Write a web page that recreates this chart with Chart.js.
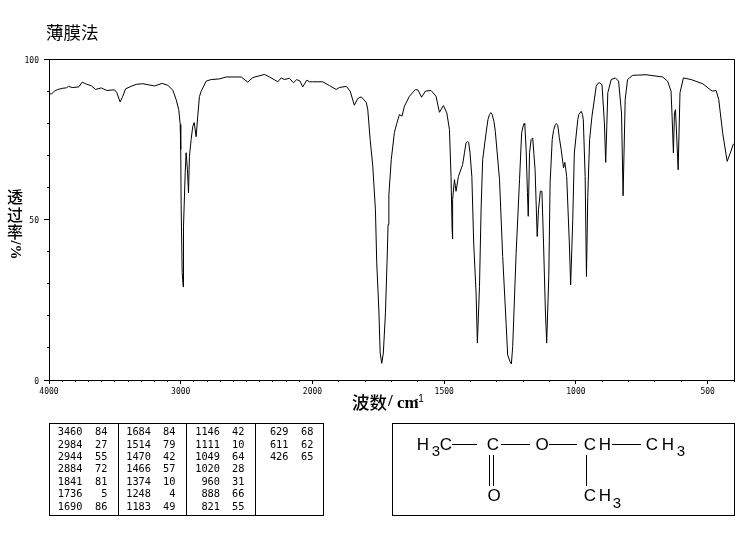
<!DOCTYPE html>
<html>
<head>
<meta charset="utf-8">
<title>薄膜法</title>
<script src="https://cdn.jsdelivr.net/npm/chart.js@4"></script>
<style>
body{margin:0;background:#fff;}
canvas{display:block;}
</style>
</head>
<body>
<canvas id="myChart" width="748" height="539"></canvas>
<script>
// spectrum
const waveNumbers=[4000,3983,3958,3933,3895,3869,3852,3824,3774,3748,3713,3680,3647,3604,3561,3503,3485,3460,3440,3419,3376,3338,3288,3250,3199,3141,3098,3060,3035,3015,3004,3000,2997,2989,2981,2979,2966,2959,2949,2941,2934,2921,2909,2898,2883,2871,2858,2845,2807,2769,2706,2655,2541,2491,2453,2364,2326,2263,2238,2213,2175,2144,2119,2094,2074,2043,2023,2000,1961,1935,1910,1898,1872,1857,1841,1828,1815,1796,1790,1781,1771,1761,1756,1748,1743,1737,1731,1723,1717,1713,1710,1701,1689,1680,1670,1660,1651,1632,1609,1599,1586,1571,1550,1531,1518,1503,1490,1480,1474,1470,1469,1467,1461,1455,1446,1430,1423,1417,1412,1407,1402,1395,1388,1379,1374,1366,1360,1354,1341,1334,1328,1323,1318,1311,1306,1290,1278,1265,1259,1250,1245,1240,1227,1214,1206,1201,1197,1194,1189,1184,1181,1176,1170,1164,1155,1147,1142,1135,1129,1123,1116,1111,1103,1098,1090,1085,1078,1074,1069,1063,1056,1047,1042,1035,1025,1020,1012,1006,993,989,980,975,972,965,960,955,948,939,923,917,911,901,892,887,879,866,850,838,827,821,813,804,785,734,671,652,639,635,630,626,622,612,605,592,563,519,483,468,458,443,426,414,402];
const transmittance=[89.2,89.1,90.0,90.5,90.9,91.0,91.5,91.1,91.3,92.8,92.1,91.7,90.5,91.0,90.2,90.4,89.5,86.6,88.4,90.7,91.5,92.1,92.3,92.0,91.6,92.4,91.8,90.3,87.4,84.2,79.6,71.8,54.6,33.4,29.0,47.7,64.6,70.8,65.5,58.3,69.6,74.9,78.9,80.2,75.8,82.1,88.3,89.9,93.1,93.6,93.8,94.4,94.4,92.8,94.2,95.2,94.4,92.9,94.1,93.6,94.0,92.6,93.6,93.1,91.3,93.4,92.9,92.9,92.9,91.7,90.5,91.1,91.5,90.0,85.6,87.7,88.2,86.5,84.2,74.9,66.6,53.0,36.5,21.8,8.4,5.2,8.4,20.9,36.5,48.4,57.7,68.6,77.1,79.9,82.7,82.2,85.3,88.4,90.5,90.3,88.1,90.0,90.2,88.4,83.4,85.5,83.2,78.0,63.4,46.8,43.9,56.2,62.4,58.8,63.4,67.1,70.8,73.9,74.3,74.0,70.8,63.4,42.7,27.1,11.5,29.1,53.0,68.6,77.0,81.1,82.7,83.3,82.7,80.5,77.5,62.4,38.5,17.7,7.8,5.7,5.0,10.4,39.5,62.4,77.0,78.9,79.9,79.6,71.8,58.3,51.0,70.8,74.9,75.4,65.5,44.7,53.0,58.8,58.8,42.7,21.8,11.5,32.2,61.4,74.9,77.7,79.6,79.9,79.3,75.5,71.8,66.1,67.8,63.4,42.7,29.6,49.9,70.7,81.1,82.7,83.7,82.7,81.1,63.4,32.2,57.2,74.9,82.2,91.5,92.4,92.6,92.0,80.1,67.8,89.5,93.6,94.1,93.1,83.2,57.4,87.4,93.6,94.9,95.1,94.4,93.1,90.0,82.2,70.7,83.2,84.2,65.5,89.5,94.1,93.6,92.3,90.0,90.2,87.4,77.0,68.1,70.7,73.6];

const xLabelTicks=[4000,3000,2000,1500,1000,500];
const yLabelTicks=[0,50,100];

// peak table, one list per column of the printed table
const peakWave1=[3460,2984,2944,2884,1841,1736,1690];
const peakTrans1=[84,27,55,72,81,5,86];
const peakWave2=[1684,1514,1470,1466,1374,1248,1183];
const peakTrans2=[84,79,42,57,10,4,49];
const peakWave3=[1146,1111,1049,1020,960,888,821];
const peakTrans3=[42,10,64,28,31,66,55];
const peakWave4=[629,611,426];
const peakTrans4=[68,62,65];

// the axis is twice as wide per cm-1 below 2000
const xPos=(wn)=>wn>=2000?(4000-wn)/2:1000+(2000-wn);

const xMinorTicks=[];
for(let wn=4000;wn>=400;wn-=100){
    xMinorTicks.push(wn);
}

const tickFont={family:"'DejaVu Sans Mono'",size:8};

const label=(ctx,text,x,y,font,align)=>{
    ctx.font=font;
    ctx.textAlign=align||"center";
    ctx.textBaseline="middle";
    ctx.fillText(text,x,y);
};

const line=(ctx,x1,y1,x2,y2)=>{
    ctx.beginPath();
    ctx.moveTo(x1,y1);
    ctx.lineTo(x2,y2);
    ctx.stroke();
};

const drawTitles=(ctx)=>{
    const cjk="'Noto Sans CJK SC'";
    label(ctx,"薄膜法",46,32,`17.5px ${cjk}`,"left");

    label(ctx,"波数",352,402,`500 17.5px ${cjk}`,"left");
    label(ctx,"/",388,402,"bold 17px 'Liberation Serif'","left");
    label(ctx,"cm",397,404,"bold 17px 'Liberation Serif'","left");
    label(ctx,"-1",415,399,"10px 'Liberation Sans'","left");

    label(ctx,"透",15,197,`500 16px ${cjk}`);
    label(ctx,"过",15,215,`500 16px ${cjk}`);
    label(ctx,"率",15,232,`500 16px ${cjk}`);
    ctx.save();
    ctx.translate(15,250);
    ctx.rotate(Math.PI/2);
    label(ctx,"/%",0,0,"bold 15px 'Liberation Serif'");
    ctx.restore();
};

const drawPeakTable=(ctx)=>{
    ctx.strokeRect(49.5,423.5,274,92);
    line(ctx,118.5,423.5,118.5,515.5);
    line(ctx,186.5,423.5,186.5,515.5);
    line(ctx,255.5,423.5,255.5,515.5);

    const cols=[
        [peakWave1,peakTrans1,82.5,107.5],
        [peakWave2,peakTrans2,151,175.5],
        [peakWave3,peakTrans3,220,244.5],
        [peakWave4,peakTrans4,288.5,313.5]
    ];
    const font="10.3px 'DejaVu Sans Mono'";
    cols.forEach(([wave,trans,xWave,xTrans])=>{
        wave.forEach((w,i)=>{
            const y=432.5+i*12.4;
            label(ctx,String(w),xWave,y,font,"right");
            label(ctx,String(trans[i]),xTrans,y,font,"right");
        });
    });
};

const drawStructure=(ctx)=>{
    ctx.strokeRect(392.5,423.5,342,92);
    const font="17px 'Liberation Sans'";
    const sub="15px 'Liberation Sans'";
    label(ctx,"H",423,445,font);
    label(ctx,"3",436,452,sub);
    label(ctx,"C",446,445,font);
    line(ctx,452,444.5,477,444.5);
    label(ctx,"C",493,445,font);
    line(ctx,501,444.5,530,444.5);
    label(ctx,"O",542,445,font);
    line(ctx,549,444.5,577,444.5);
    label(ctx,"C",590,445,font);
    label(ctx,"H",605,445,font);
    line(ctx,612,444.5,641,444.5);
    label(ctx,"C",652,445,font);
    label(ctx,"H",668,445,font);
    label(ctx,"3",681,452,sub);

    line(ctx,489.5,455,489.5,486);
    line(ctx,493.5,455,493.5,486);
    label(ctx,"O",494,496,font);

    line(ctx,586.5,455,586.5,486);
    label(ctx,"C",590,496,font);
    label(ctx,"H",605,496,font);
    label(ctx,"3",617,504,sub);
};

const extras={
    id:"extras",
    afterDraw(chart){
        const ctx=chart.ctx;
        const a=chart.chartArea;
        ctx.save();
        ctx.strokeStyle="#000";
        ctx.fillStyle="#000";
        ctx.lineWidth=1;
        ctx.strokeRect(Math.round(a.left)+0.5,Math.round(a.top)+0.5,Math.round(a.right-a.left),Math.round(a.bottom-a.top));
        drawTitles(ctx);
        drawPeakTable(ctx);
        drawStructure(ctx);
        ctx.restore();
    }
};

new Chart(document.getElementById("myChart"),{
    type:"line",
    data:{
        datasets:[{
            data:waveNumbers.map((wn,i)=>({x:xPos(wn),y:transmittance[i]})),
            borderColor:"#000",
            borderWidth:1,
            pointRadius:0,
            tension:0
        }]
    },
    options:{
        responsive:false,
        animation:false,
        devicePixelRatio:1,
        layout:{padding:{top:59,right:14}},
        plugins:{legend:{display:false},title:{display:false},tooltip:{enabled:false}},
        scales:{
            x:{
                type:"linear",
                min:0,
                max:2600,
                afterBuildTicks:(s)=>{s.ticks=xLabelTicks.map(wn=>({value:xPos(wn)}));},
                afterFit:(s)=>{s.height=159;},
                border:{color:"#000"},
                grid:{drawOnChartArea:false,tickColor:"#000",tickLength:4},
                ticks:{
                    autoSkip:false,
                    maxRotation:0,
                    color:"#000",
                    font:tickFont,
                    padding:3,
                    callback:(v)=>xLabelTicks.find(wn=>xPos(wn)===v)
                }
            },
            xMinor:{
                type:"linear",
                position:"bottom",
                weight:-1,
                min:0,
                max:2600,
                afterBuildTicks:(s)=>{s.ticks=xMinorTicks.map(wn=>({value:xPos(wn)}));},
                afterFit:(s)=>{s.height=0;},
                border:{display:false},
                grid:{drawOnChartArea:false,tickColor:"#000",tickLength:2},
                ticks:{display:false}
            },
            y:{
                min:0,
                max:100,
                afterBuildTicks:(s)=>{s.ticks=yLabelTicks.map(v=>({value:v}));},
                afterFit:(s)=>{s.width=49;},
                border:{color:"#000"},
                grid:{drawOnChartArea:false,tickColor:"#000",tickLength:5},
                ticks:{color:"#000",font:tickFont,padding:5,labelOffset:1.5}
            },
            yMinor:{
                position:"left",
                weight:-1,
                min:0,
                max:100,
                afterBuildTicks:(s)=>{
                    s.ticks=[];
                    for(let v=0;v<=100;v+=10){
                        s.ticks.push({value:v});
                    }
                },
                afterFit:(s)=>{s.width=0;},
                border:{display:false},
                grid:{drawOnChartArea:false,tickColor:"#000",tickLength:2},
                ticks:{display:false}
            }
        }
    },
    plugins:[extras]
});
</script>
</body>
</html>
